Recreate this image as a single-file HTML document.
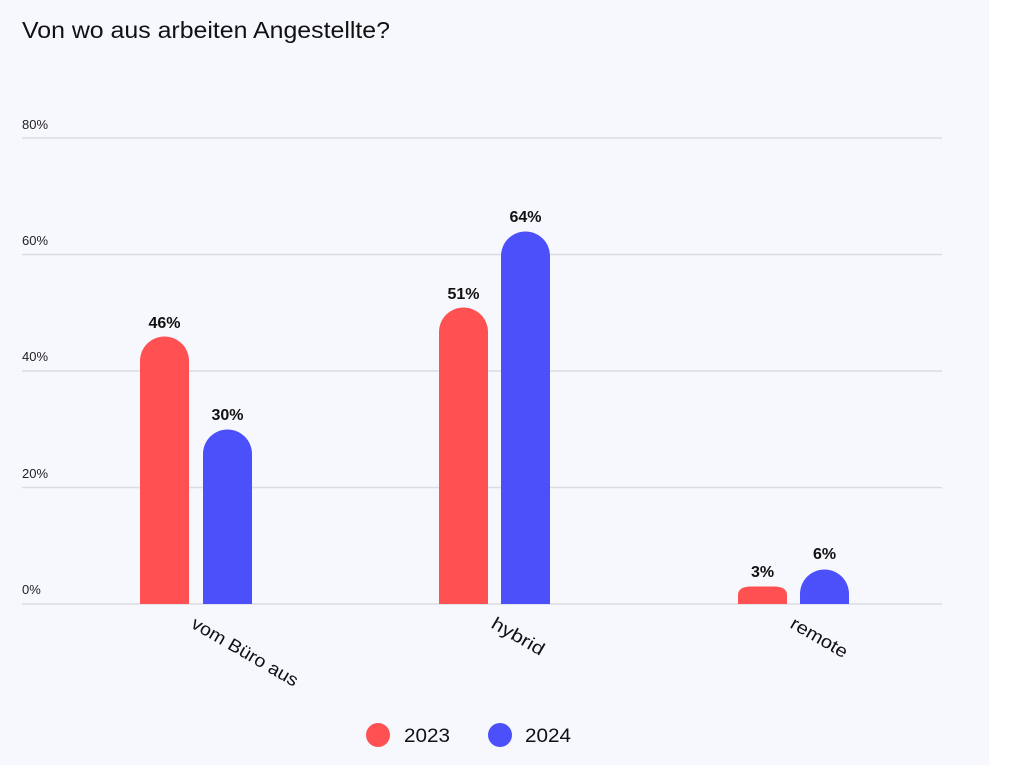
<!DOCTYPE html>
<html><head><meta charset="utf-8"><style>
html,body{margin:0;padding:0;background:#fff;}
body{width:1016px;height:765px;overflow:hidden;}
</style></head><body>
<svg width="1016" height="765" xmlns="http://www.w3.org/2000/svg" font-family="Liberation Sans, sans-serif">
<rect x="0" y="0" width="989" height="765" fill="#f7f8fe"/>
<text x="22" y="38" font-size="23.5" fill="#111" textLength="368" lengthAdjust="spacingAndGlyphs">Von wo aus arbeiten Angestellte?</text>
<g stroke="#dcdce2" stroke-width="1.5">
<line x1="22" y1="138" x2="942" y2="138"/>
<line x1="22" y1="254.5" x2="942" y2="254.5"/>
<line x1="22" y1="371" x2="942" y2="371"/>
<line x1="22" y1="487.5" x2="942" y2="487.5"/>
<line x1="22" y1="604" x2="942" y2="604"/>
</g>
<g font-size="13" fill="#222">
<text x="22" y="129">80%</text>
<text x="22" y="245">60%</text>
<text x="22" y="361">40%</text>
<text x="22" y="478">20%</text>
<text x="22" y="594">0%</text>
</g>
<g>
<path d="M140 604 V361 A24.5 24.5 0 0 1 189 361 V604 Z" fill="#ff5052"/>
<path d="M203 604 V454 A24.5 24.5 0 0 1 252 454 V604 Z" fill="#4b50fb"/>
<path d="M439 604 V332 A24.5 24.5 0 0 1 488 332 V604 Z" fill="#ff5052"/>
<path d="M501 604 V256 A24.5 24.5 0 0 1 550 256 V604 Z" fill="#4b50fb"/>
<path d="M738 604 V595 Q738 587 750 586.5 H775 Q787 587 787 595 V604 Z" fill="#ff5052"/>
<path d="M800 604 V594 A24.5 24.5 0 0 1 849 594 V604 Z" fill="#4b50fb" />
</g>
<g font-size="16" font-weight="bold" fill="#111" text-anchor="middle">
<text x="164.5" y="328">46%</text>
<text x="227.5" y="420">30%</text>
<text x="463.5" y="299">51%</text>
<text x="525.5" y="222">64%</text>
<text x="762.5" y="577">3%</text>
<text x="824.5" y="559">6%</text>
</g>
<g font-size="18" fill="#111">
<text transform="translate(190,627) rotate(30)" textLength="120" lengthAdjust="spacingAndGlyphs">vom Büro aus</text>
<text transform="translate(490,627) rotate(30)" textLength="58" lengthAdjust="spacingAndGlyphs">hybrid</text>
<text transform="translate(789,627) rotate(30)" textLength="63" lengthAdjust="spacingAndGlyphs">remote</text>
</g>
<circle cx="378" cy="735" r="12" fill="#ff5052"/>
<text x="404" y="742" font-size="19" fill="#111" textLength="46" lengthAdjust="spacingAndGlyphs">2023</text>
<circle cx="500" cy="735" r="12" fill="#4b50fb"/>
<text x="525" y="742" font-size="19" fill="#111" textLength="46" lengthAdjust="spacingAndGlyphs">2024</text>
</svg>
</body></html>
